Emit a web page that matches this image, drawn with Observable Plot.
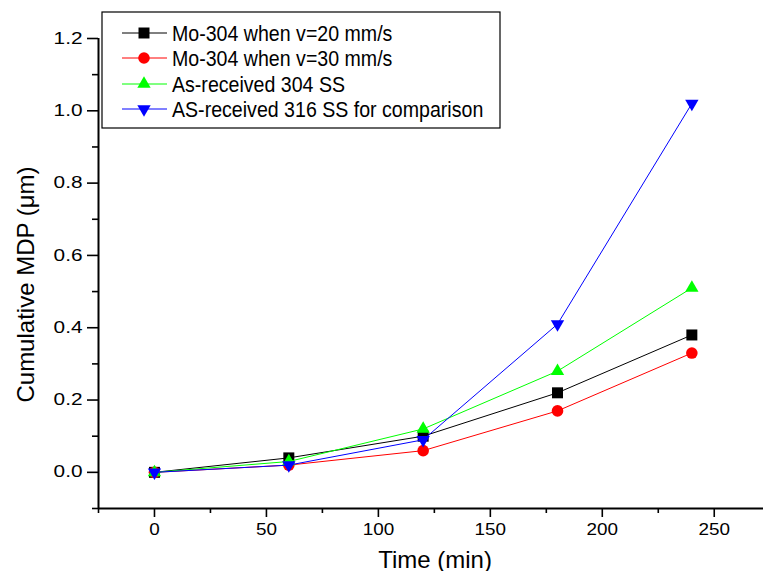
<!DOCTYPE html>
<html><head><meta charset="utf-8">
<script src="https://cdn.jsdelivr.net/npm/d3@7"></script>
<script src="https://cdn.jsdelivr.net/npm/@observablehq/plot@0.6"></script>
<style>
body{margin:0;background:#fff;}
#chart svg{font-family:"Liberation Sans",Arial,sans-serif;}
</style></head><body><div id="chart"></div>
<script>
// ---- data ----
const times = [0, 60, 120, 180, 240];
const seriesNames = [
  "Mo-304 when v=20 mm/s",
  "Mo-304 when v=30 mm/s",
  "As-received 304 SS",
  "AS-received 316 SS for comparison"
];
const mo304v20 = [0, 0.04, 0.10, 0.22, 0.38];
const mo304v30 = [0, 0.02, 0.06, 0.17, 0.33];
const asRec304 = [0, 0.03, 0.12, 0.28, 0.51];
const asRec316 = [0, 0.02, 0.09, 0.41, 1.02];
const xMajorTicks = [0, 50, 100, 150, 200, 250];
const xMinorTicks = [-25, 25, 75, 125, 175, 225];
const yMajorTicks = [0, 0.2, 0.4, 0.6, 0.8, 1.0, 1.2];
const yMinorTicks = [-0.1, 0.1, 0.3, 0.5, 0.7, 0.9, 1.1];
const xTitle = "Time (min)";
const yTitle = "Cumulative MDP (\u03bcm)";

// ---- styles ----
const sqrt3 = Math.sqrt(3);
const triangleDown = {
  draw(context, size) {
    const y = Math.sqrt(size / (sqrt3 * 3));
    context.moveTo(0, 2 * y);
    context.lineTo(-sqrt3 * y, -y);
    context.lineTo(sqrt3 * y, -y);
    context.closePath();
  }
};
const seriesValues = [mo304v20, mo304v30, asRec304, asRec316];
const colors = ["#000000", "#ff0000", "#00ff00", "#0000ff"];
const symbols = [d3.symbolSquare, d3.symbolCircle, d3.symbolTriangle, triangleDown];
const radii = [6.2, 5.8, 4.95, 4.95];

const table = seriesValues.map((vals, s) => times.map((t, i) => ({t, v: vals[i], s})));

const marks = [];
table.forEach((rows, s) => {
  marks.push(Plot.line(rows, {x: "t", y: "v", stroke: colors[s], strokeWidth: 1}));
  marks.push(Plot.dot(rows, {x: "t", y: "v", fill: colors[s], stroke: "none", symbol: symbols[s], r: radii[s]}));
});

const chart = Plot.plot({
  width: 763,
  height: 571,
  marginLeft: 98,
  marginRight: 0,
  marginTop: 38,
  marginBottom: 63,
  style: {background: "white", fontFamily: "'Liberation Sans', Arial, sans-serif", color: "black"},
  x: {domain: [-25, 272]},
  y: {domain: [-0.1, 1.2]},
  marks: [
    Plot.axisX({ticks: xMajorTicks, tickSize: 9, tickPadding: 6, fontSize: 16, strokeWidth: 1.6, label: null}),
    Plot.axisX({ticks: xMinorTicks, tickSize: 5, text: null, strokeWidth: 1.6, label: null}),
    Plot.axisY({ticks: yMajorTicks, tickSize: 11, tickPadding: 5, fontSize: 16, strokeWidth: 1.6, tickFormat: d3.format(".1f"), label: null}),
    Plot.axisY({ticks: yMinorTicks, tickSize: 6, text: null, strokeWidth: 1.6, label: null}),
    Plot.ruleY([-0.1], {strokeWidth: 2}),
    Plot.ruleX([-25], {strokeWidth: 2}),
    ...marks,
    Plot.text([xTitle], {frameAnchor: "bottom", lineAnchor: "bottom", textAnchor: "middle", dx: 4, dy: 59, fontSize: 24, ariaLabel: "x-title"}),
    Plot.text([yTitle], {frameAnchor: "left", lineAnchor: "bottom", textAnchor: "middle", rotate: -90, dx: -65, dy: 11, fontSize: 24, ariaLabel: "y-title"})
  ]
});
document.getElementById("chart").appendChild(chart);

// ---- legend ----
const svg = d3.select(chart);
const lg = svg.append("g").attr("class", "legend");
lg.append("rect").attr("x", 102).attr("y", 12).attr("width", 398).attr("height", 116)
  .attr("fill", "white").attr("stroke", "black").attr("stroke-width", 1.2);
const rowY = [33, 58, 84, 109];
seriesNames.forEach((name, s) => {
  const g = lg.append("g").attr("transform", `translate(0,${rowY[s]})`);
  g.append("line").attr("x1", 122).attr("x2", 167).attr("y1", 0).attr("y2", 0)
    .attr("stroke", colors[s]).attr("stroke-width", 1);
  g.append("path").attr("transform", "translate(144,0)")
    .attr("d", d3.symbol(symbols[s], Math.PI * radii[s] * radii[s])()).attr("fill", colors[s]);
  g.append("text").attr("class", "lgtext").attr("x", 172).attr("y", 0).attr("dy", "0.36em")
    .attr("text-anchor", "start").attr("font-size", 22).attr("fill", "black").text(name);
});

// ---- horizontal glyph scaling to mimic the original rendering ----
function scaleTexts(sel, factor) {
  sel.each(function () {
    const len = this.getComputedTextLength();
    if (len > 0) {
      this.setAttribute("textLength", (len * factor).toFixed(1));
      this.setAttribute("lengthAdjust", "spacingAndGlyphs");
    }
  });
}
scaleTexts(svg.selectAll("g[aria-label='y-axis tick label'] text"), 1.3);
scaleTexts(svg.selectAll("g[aria-label='x-axis tick label'] text"), 1.18);
scaleTexts(svg.selectAll("text.lgtext"), 0.89);
svg.selectAll("g[aria-label='y-title'] text").each(function () {
  this.setAttribute("textLength", 205);
  this.setAttribute("lengthAdjust", "spacingAndGlyphs");
});
</script></body></html>
